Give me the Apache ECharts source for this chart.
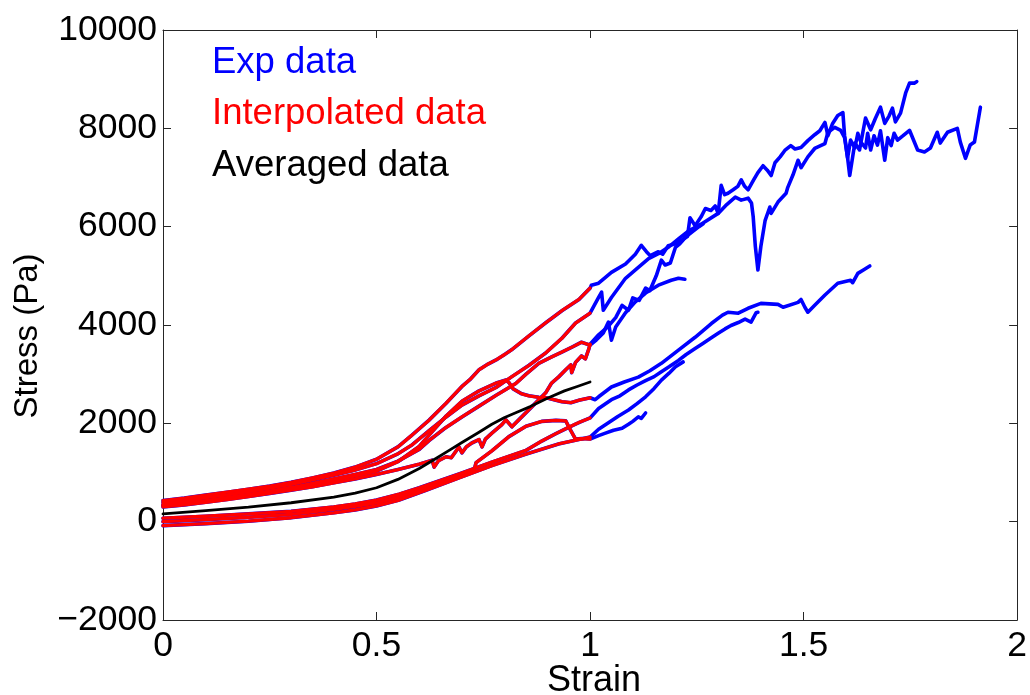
<!DOCTYPE html>
<html>
<head>
<meta charset="utf-8">
<script src="https://cdn.jsdelivr.net/npm/echarts@6/dist/echarts.min.js"></script>
<style>
  html, body { margin: 0; padding: 0; background: #ffffff; }
  #chart { width: 1030px; height: 695px; }
</style>
</head>
<body>
<div id="chart"></div>
<script>
// Stress–strain records, [strain, stress (Pa)]
const specimenA = [[0,430],[0.05,480],[0.1,540],[0.15,600],[0.2,660],[0.25,725],[0.3,800],[0.35,890],[0.4,990],[0.45,1110],[0.5,1270],[0.55,1520],[0.583,1760],[0.623,2065],[0.663,2410],[0.7,2750],[0.72,2900],[0.74,3090],[0.76,3200],[0.78,3290],[0.8,3400],[0.817,3500],[0.857,3780],[0.897,4050],[0.934,4290],[0.974,4520],[1.0,4750],
  [1.003,4810],[1.02,4850],[1.05,5070],[1.083,5240],[1.106,5440],[1.12,5620],[1.132,5490],[1.141,5410],[1.16,5490],[1.17,5440],[1.183,5610],[1.2,5650],[1.215,5730],[1.228,5800],[1.234,6180],[1.246,6020],[1.26,6200],[1.27,6370],[1.283,6330],[1.293,6420],[1.3,6270],[1.307,6840],[1.315,6650],[1.323,6680],[1.335,6750],[1.346,6820],[1.354,6950],[1.362,6820],[1.37,6750],[1.383,6950],[1.393,7100],[1.405,7240],[1.415,7150],[1.424,7040],[1.433,7300],[1.445,7420],[1.456,7550],[1.47,7650],[1.48,7580],[1.494,7610],[1.51,7750],[1.526,7870],[1.538,7950],[1.55,8120],[1.557,7850],[1.568,8100],[1.58,8260],[1.592,8320],[1.596,7850],[1.603,7400],[1.608,7040],[1.62,7700],[1.631,7560],[1.645,8210],[1.657,7970],[1.668,8200],[1.68,8430],[1.69,8100],[1.7,8250],[1.708,8410],[1.715,8130],[1.727,8310],[1.739,8720],[1.748,8920],[1.76,8920],[1.765,8950]];

const specimenB = [[0,390],[0.05,430],[0.1,490],[0.15,545],[0.2,610],[0.25,680],[0.3,760],[0.35,850],[0.4,945],[0.45,1050],[0.5,1180],[0.55,1380],[0.583,1560],[0.623,1850],[0.663,2130],[0.7,2370],[0.74,2560],[0.78,2730],[0.817,2950],[0.857,3180],[0.896,3430],[0.934,3730],[0.966,4040],[1.0,4240],
  [1.02,4560],[1.027,4670],[1.031,4300],[1.05,4560],[1.083,4950],[1.113,5170],[1.137,5350],[1.16,5450],[1.183,5580],[1.207,5750],[1.23,5910],[1.26,6050],[1.3,6270],[1.32,6450],[1.34,6600],[1.354,6540],[1.37,6580],[1.378,6480],[1.382,6200],[1.387,5600],[1.393,5120],[1.4,5600],[1.41,6130],[1.421,6400],[1.424,6270],[1.44,6500],[1.459,6680],[1.463,6800],[1.475,7050],[1.487,7350],[1.494,7200],[1.51,7420],[1.526,7590],[1.55,7690],[1.557,7920],[1.573,8020],[1.587,7960],[1.596,7810],[1.603,7400],[1.61,7760],[1.62,7600],[1.627,7900],[1.634,7720],[1.645,7600],[1.65,7900],[1.657,7560],[1.665,7850],[1.673,7660],[1.68,7950],[1.69,7350],[1.697,7810],[1.705,7650],[1.712,7900],[1.72,7760],[1.733,7850],[1.748,7960],[1.767,7560],[1.783,7520],[1.797,7600],[1.813,7920],[1.82,7700],[1.837,7920],[1.86,8000],[1.867,7720],[1.879,7390],[1.89,7660],[1.9,7720],[1.914,8430]];

const specimenC = [[0,300],[0.05,340],[0.1,395],[0.15,450],[0.2,510],[0.25,575],[0.3,640],[0.35,710],[0.4,790],[0.45,870],[0.5,960],[0.55,1060],[0.6,1170],[0.63,1250],[0.635,1110],[0.645,1240],[0.663,1320],[0.675,1300],[0.693,1520],[0.7,1400],[0.71,1520],[0.723,1600],[0.74,1670],[0.747,1520],[0.755,1680],[0.77,1800],[0.793,1970],[0.803,2070],[0.817,1930],[0.833,2070],[0.863,2330],[0.896,2620],[0.91,2820],[0.926,2940],[0.943,3090],[0.955,3190],[0.957,3030],[0.966,3240],[0.98,3370],[0.989,3310],[0.997,3510],[1.0,3610],
  [1.02,3800],[1.04,3950],[1.06,4150],[1.075,4400],[1.09,4300],[1.1,4550],[1.115,4500],[1.13,4750],[1.14,4700],[1.155,5000],[1.167,5320],[1.176,5220],[1.188,5260],[1.2,5580],[1.21,5650],[1.225,5800],[1.24,5900],[1.255,6000],[1.265,6060]];

const specimenD = [[0,340],[0.05,380],[0.1,430],[0.15,490],[0.2,555],[0.25,620],[0.3,695],[0.35,780],[0.4,870],[0.45,960],[0.5,1060],[0.55,1230],[0.6,1470],[0.623,1650],[0.66,1900],[0.7,2130],[0.74,2350],[0.78,2570],[0.826,2810],[0.85,3000],[0.88,3220],[0.91,3350],[0.934,3450],[0.96,3560],[0.98,3650],[1.0,3590],
  [1.015,3700],[1.031,3840],[1.043,4060],[1.05,3690],[1.06,3960],[1.083,4250],[1.106,4470],[1.13,4650],[1.16,4810],[1.19,4910],[1.207,4950],[1.222,4930]];

const specimenE = [[0,330],[0.05,370],[0.1,420],[0.15,475],[0.2,535],[0.25,600],[0.3,670],[0.35,750],[0.4,840],[0.45,930],[0.5,1030],[0.55,1220],[0.6,1530],[0.623,1760],[0.663,2150],[0.7,2450],[0.74,2660],[0.78,2820],[0.803,2880],[0.81,2830],[0.82,2700],[0.84,2600],[0.857,2560],[0.88,2530],[0.897,2520],[0.92,2470],[0.934,2440],[0.955,2420],[0.974,2470],[1.0,2520],
  [1.012,2480],[1.02,2540],[1.05,2740],[1.08,2840],[1.113,2940],[1.14,3070],[1.167,3220],[1.207,3490],[1.246,3750],[1.284,4030],[1.31,4200],[1.323,4260],[1.347,4240],[1.37,4340],[1.4,4440],[1.44,4420],[1.452,4360],[1.487,4460],[1.494,4520],[1.503,4360],[1.51,4260],[1.526,4400],[1.55,4610],[1.58,4850],[1.61,4910],[1.615,4860],[1.627,5050],[1.64,5120],[1.655,5200]];

const specimenF = [[0,70],[0.1,110],[0.2,160],[0.3,210],[0.4,300],[0.45,360],[0.5,440],[0.553,560],[0.6,690],[0.693,970],[0.77,1210],[0.85,1450],[0.887,1640],[0.92,1790],[0.95,1920],[0.975,2020],[1.0,2110],
  [1.02,2300],[1.05,2480],[1.07,2560],[1.09,2680],[1.11,2780],[1.13,2870],[1.15,2950],[1.167,3050],[1.185,3150],[1.207,3280],[1.225,3400],[1.246,3520],[1.265,3630],[1.284,3740],[1.3,3830],[1.316,3920],[1.33,3990],[1.347,4050],[1.363,4120],[1.377,4060],[1.389,4250],[1.393,4260]];

const specimenG = [[0,0],[0.1,40],[0.2,90],[0.3,150],[0.4,250],[0.45,310],[0.5,380],[0.553,500],[0.616,690],[0.693,930],[0.728,1030],[0.733,1200],[0.77,1440],[0.81,1730],[0.85,1940],[0.887,2040],[0.92,2060],[0.943,2050],[0.955,1850],[0.966,1680],[0.98,1690],[1.0,1680],
  [1.02,1750],[1.036,1800],[1.055,1860],[1.075,1900],[1.09,1980],[1.1,2040],[1.113,2130],[1.12,2100],[1.13,2210]];

const specimenH = [[0,-80],[0.1,-40],[0.2,10],[0.3,80],[0.4,180],[0.45,240],[0.5,320],[0.553,440],[0.616,640],[0.693,890],[0.77,1140],[0.849,1370],[0.926,1580],[1.0,1720],
  [1.02,1880],[1.043,2010],[1.065,2140],[1.09,2270],[1.11,2400],[1.13,2540],[1.15,2710],[1.167,2880],[1.185,3020],[1.2,3150],[1.218,3250]];

// Mean curve over the common strain range
const averaged = [[0,160],[0.1,225],[0.2,295],[0.3,385],[0.4,500],[0.45,580],[0.5,690],[0.55,860],[0.6,1080],[0.64,1290],[0.67,1450],[0.7,1610],[0.74,1820],[0.77,1980],[0.8,2120],[0.83,2230],[0.86,2340],[0.9,2510],[0.94,2660],[0.97,2750],[1.0,2840]];

const strainTicks = [0, 0.5, 1, 1.5, 2];
const stressTicks = [-2000, 0, 2000, 4000, 6000, 8000, 10000];
const legendLabels = ['Exp data', 'Interpolated data', 'Averaged data'];

const specimens = [specimenA, specimenB, specimenC, specimenD, specimenE, specimenF, specimenG, specimenH];
const interpLimit = 1.0;

const FONT = '"Liberation Sans", Arial, Helvetica, sans-serif';
const BLUE = '#0000ff', RED = '#ff0000', BLACK = '#000000', AXIS = '#262626';

const series = [];
// full experimental records underneath
specimens.forEach(function (d) {
  series.push({
    type: 'line', data: d, showSymbol: false, silent: true,
    lineStyle: { color: BLUE, width: 3.6, join: 'round', cap: 'round' }
  });
});
// the same records over the shared strain window
specimens.forEach(function (d) {
  series.push({
    type: 'line', data: d.filter(function (p) { return p[0] <= interpLimit; }),
    showSymbol: false, silent: true,
    lineStyle: { color: RED, width: 3.3, join: 'round', cap: 'round' }
  });
});
series.push({
  type: 'line', data: averaged, showSymbol: false, silent: true,
  lineStyle: { color: BLACK, width: 2.8, join: 'round', cap: 'round' }
});

const tickStyle = { show: true, inside: true, length: 8, lineStyle: { color: AXIS, width: 1 } };
const lineStyleAxis = { show: true, onZero: false, lineStyle: { color: AXIS, width: 1 } };

function xAxisCfg(pos, labels) {
  return {
    type: 'value', position: pos, min: strainTicks[0], max: strainTicks[strainTicks.length - 1],
    interval: strainTicks[1] - strainTicks[0],
    axisLine: lineStyleAxis, axisTick: tickStyle, splitLine: { show: false },
    axisLabel: {
      show: labels, fontSize: 35.5, fontFamily: FONT, color: '#000', margin: 26,
      verticalAlign: 'middle', formatter: function (v) { return String(v); }
    }
  };
}
function yAxisCfg(pos, labels) {
  return {
    type: 'value', position: pos, min: stressTicks[0], max: stressTicks[stressTicks.length - 1],
    interval: stressTicks[1] - stressTicks[0],
    axisLine: lineStyleAxis, axisTick: tickStyle, splitLine: { show: false },
    axisLabel: {
      show: labels, fontSize: 35.5, fontFamily: FONT, color: '#000', margin: 6,
      formatter: function (v) { return String(v).replace('-', '\u2212'); }
    }
  };
}

const legendColors = [BLUE, RED, BLACK];
const legendY = [63, 114, 166];
const graphic = legendLabels.map(function (t, i) {
  return {
    type: 'text', x: 212, y: legendY[i], silent: true,
    style: { text: t, fill: legendColors[i], font: '36.5px ' + FONT, align: 'left', verticalAlign: 'middle' }
  };
});
graphic.push({
  type: 'text', x: 594, y: 681, silent: true,
  style: { text: 'Strain', fill: '#000', font: '36px ' + FONT, align: 'center', verticalAlign: 'middle' }
});
graphic.push({
  type: 'text', x: 28, y: 336, rotation: Math.PI / 2, silent: true,
  style: { text: 'Stress (Pa)', fill: '#000', font: '33px ' + FONT, align: 'center', verticalAlign: 'middle' }
});

const chart = echarts.init(document.getElementById('chart'), null, { renderer: 'canvas' });
chart.setOption({
  animation: false,
  backgroundColor: '#ffffff',
  grid: { left: 163, right: 9, top: 30, bottom: 75, containLabel: false },
  xAxis: [xAxisCfg('bottom', true), xAxisCfg('top', false)],
  yAxis: [yAxisCfg('left', true), yAxisCfg('right', false)],
  series: series,
  graphic: graphic
});
</script>
</body>
</html>
